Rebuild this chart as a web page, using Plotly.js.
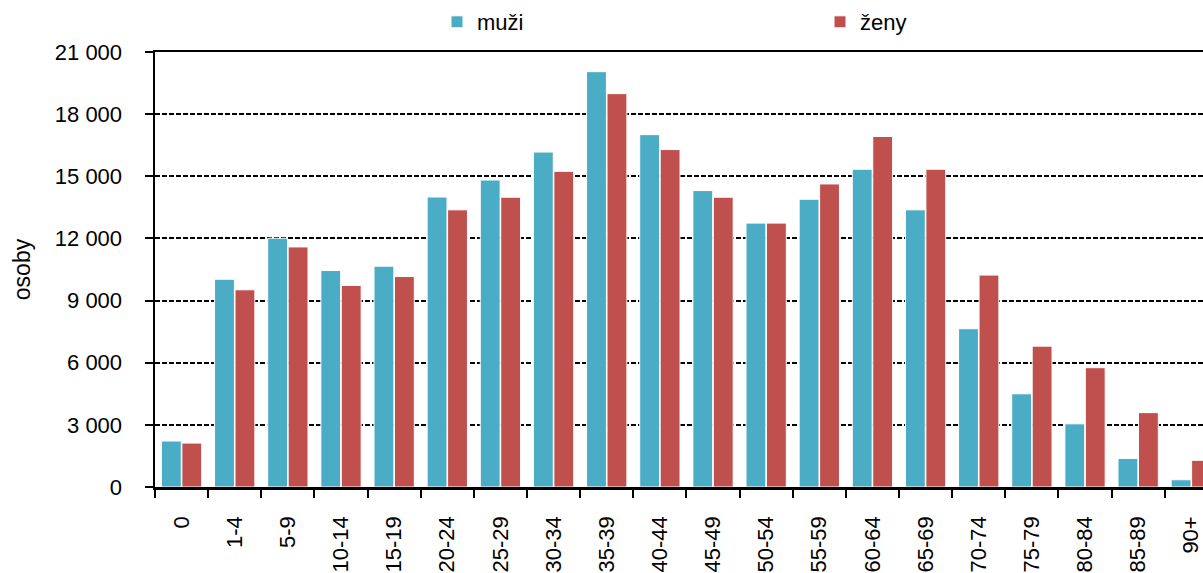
<!DOCTYPE html>
<html>
<head>
<meta charset="utf-8">
<script src="https://cdn.plot.ly/plotly-3.0.1.min.js"></script>
<style>html,body{margin:0;padding:0;overflow:hidden;background:#fff}</style>
</head>
<body>
<div id="chart" style="width:1203px;height:573px"></div>
<script>
const categories = ['0','1-4','5-9','10-14','15-19','20-24','25-29','30-34','35-39','40-44','45-49','50-54','55-59','60-64','65-69','70-74','75-79','80-84','85-89','90+'];
const muzi = [2220, 10030, 12010, 10450, 10660, 14000, 14820, 16170, 20050, 17010, 14310, 12740, 13890, 15340, 13380, 7640, 4500, 3050, 1380, 350];
const zeny = [2120, 9520, 11590, 9730, 10160, 13380, 13990, 15240, 18990, 16290, 13990, 12740, 14630, 16920, 15340, 10230, 6800, 5760, 3590, 1290];
const seriesNames = ['muži', 'ženy'];
const yTicks = [0, 3000, 6000, 9000, 12000, 15000, 18000, 21000];
const yTickText = ['0', '3 000', '6 000', '9 000', '12 000', '15 000', '18 000', '21 000'];

const font = {family: '"Liberation Sans", Arial, sans-serif', size: 22, color: '#000'};

const traces = [
  {type: 'bar', name: seriesNames[0], x: categories, y: muzi,
   marker: {color: '#4BACC6', line: {color: '#ffffff', width: 1}}},
  {type: 'bar', name: seriesNames[1], x: categories, y: zeny,
   marker: {color: '#C0504D', line: {color: '#ffffff', width: 1}}}
];

const layout = {
  width: 1203, height: 573,
  margin: {l: 155, r: 0, t: 52, b: 86, pad: 0},
  paper_bgcolor: '#fff', plot_bgcolor: '#fff',
  font: font,
  barmode: 'group',
  bargap: 0.23,
  bargroupgap: 0.03,
  showlegend: true,
  legend: {
    orientation: 'h', xref: 'container', yref: 'container',
    x: 437/1203, y: 1 - 1/573, xanchor: 'left', yanchor: 'top',
    entrywidth: 338, font: font, bgcolor: 'rgba(0,0,0,0)'
  },
  xaxis: {
    type: 'category',
    range: [-0.5, 19.22],
    showline: true, linecolor: '#000', linewidth: 2.5, mirror: true,
    ticks: 'outside', ticklen: 8, tickwidth: 2, tickcolor: '#000',
    tickson: 'boundaries',
    tickangle: -90,
    ticklabelstandoff: 18,
    showgrid: false, zeroline: false,
    automargin: false,
    tickfont: font,
    fixedrange: true
  },
  yaxis: {
    range: [0, 21000],
    tickvals: yTicks,
    ticktext: yTickText,
    showline: true, linecolor: '#000', linewidth: 2.5,
    ticks: 'outside', ticklen: 8, tickwidth: 2, tickcolor: '#000',
    ticklabelstandoff: 18,
    showgrid: true, gridcolor: '#000', gridwidth: 2, griddash: '5px,2px',
    zeroline: false,
    automargin: false,
    tickfont: font,
    title: {text: 'osoby', font: {family: font.family, size: 23, color: '#000'}, standoff: 18},
    fixedrange: true
  }
};

Plotly.newPlot('chart', traces, layout, {displayModeBar: false, staticPlot: true});
</script>
</body>
</html>
